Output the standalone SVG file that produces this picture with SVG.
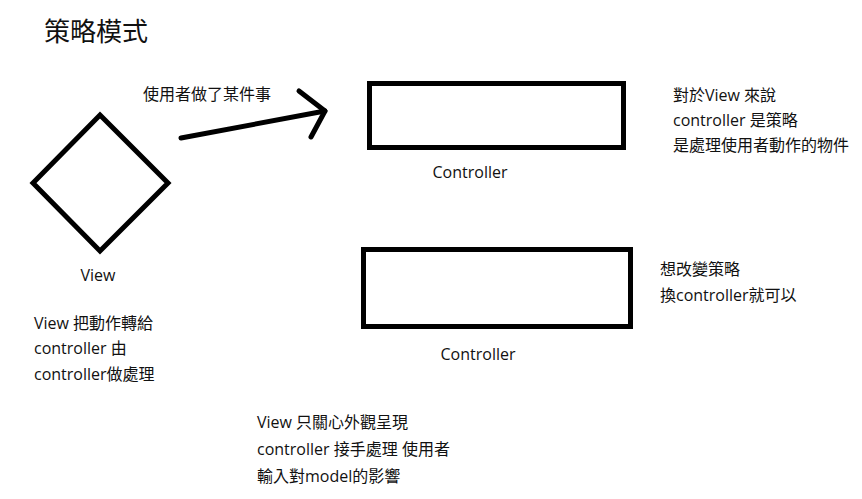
<svg xmlns="http://www.w3.org/2000/svg" width="862" height="499" viewBox="0 0 862 499">
<style>
text{font-family:"Open Sans","Noto Sans CJK TC",sans-serif;font-size:16px;fill:#111}
.t{font-size:26px}
.c{text-anchor:middle}
.shape{fill:none;stroke:#000;stroke-width:5}
.conn{fill:none;stroke:#000;stroke-width:5;stroke-linecap:round;stroke-linejoin:round}
</style>
<rect width="862" height="499" fill="#fff"/>
<text class="t" x="44" y="41">策略模式</text>
<g id="view">
<polygon class="shape" points="100,115 168,183 100,251 33,183"/>
<text class="c" x="98" y="281">View</text>
</g>
<g id="controller1">
<rect class="shape" x="369.5" y="83.5" width="254" height="64"/>
<text class="c" x="470" y="178">Controller</text>
</g>
<g id="controller2">
<rect class="shape" x="363.5" y="249.5" width="267" height="77"/>
<text class="c" x="478" y="360">Controller</text>
</g>
<g id="connectors">
<path class="conn" d="M181,138 L325,111"/>
<path class="conn" d="M299,91 L325,111 L311,137"/>
<text x="143" y="100">使用者做了某件事</text>
</g>
<g id="notes">
<text x="34" y="329">View 把動作轉給</text>
<text x="34" y="354">controller 由</text>
<text x="34" y="380">controller做處理</text>
<text x="673" y="101">對於View 來說</text>
<text x="673" y="126">controller 是策略</text>
<text x="673" y="151">是處理使用者動作的物件</text>
<text x="660" y="275">想改變策略</text>
<text x="660" y="301">換controller就可以</text>
<text x="257" y="428">View 只關心外觀呈現</text>
<text x="257" y="455">controller 接手處理 使用者</text>
<text x="257" y="482">輸入對model的影響</text>
</g>
</svg>
